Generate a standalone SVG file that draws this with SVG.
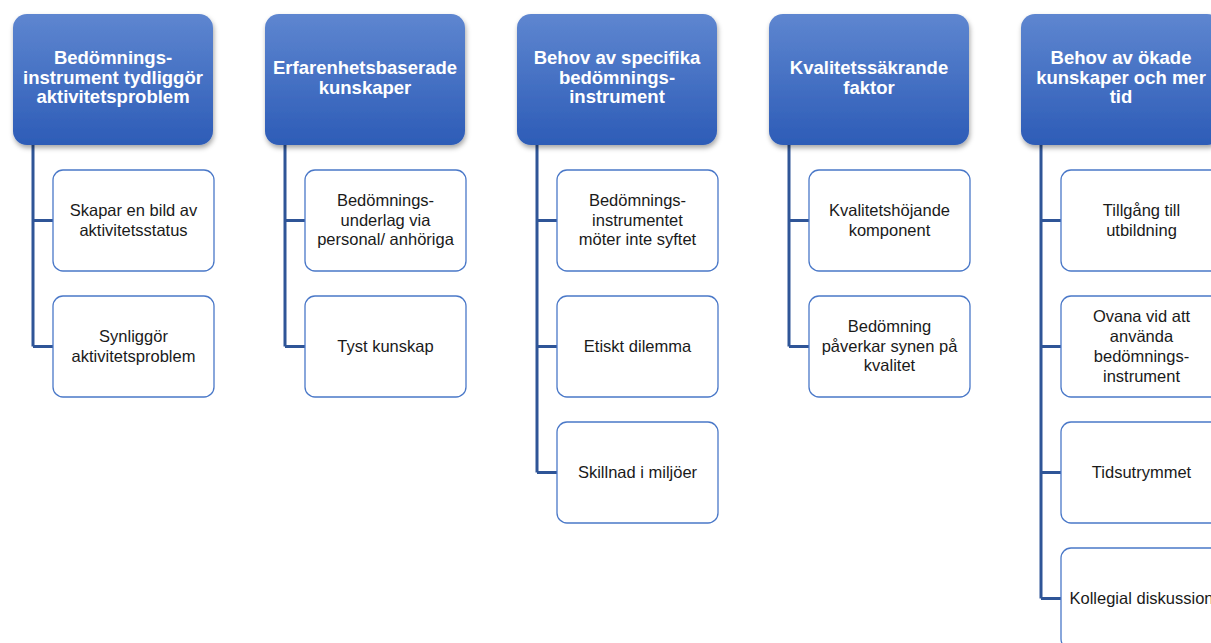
<svg xmlns="http://www.w3.org/2000/svg" width="1211" height="643" viewBox="0 0 1211 643">
<defs>
<linearGradient id="hg" x1="0" y1="0" x2="0" y2="1">
<stop offset="0" stop-color="#5E86D0"/>
<stop offset="1" stop-color="#2D5CB7"/>
</linearGradient>
<filter id="sh" x="-10%" y="-10%" width="125%" height="130%">
<feDropShadow dx="1" dy="3" stdDeviation="2.5" flood-color="#000" flood-opacity="0.35"/>
</filter>
</defs>
<style>
.h{fill:url(#hg);filter:url(#sh)}
.ht{font-family:"Liberation Sans",Arial,sans-serif;font-weight:bold;font-size:18.5px;fill:#fff;text-anchor:middle}
.c{fill:#fff;stroke:#4A78C8;stroke-width:1.3}
.ct{font-family:"Liberation Sans",Arial,sans-serif;font-size:16.5px;fill:#1a1a1a;text-anchor:middle}
.ln{fill:none;stroke:#2F5597;stroke-width:3}
</style>
<g id="connectors">
<path class="ln" d="M33,145 V346.5 M33,220.5 H53 M33,346.5 H53"/>
<path class="ln" d="M285,145 V346.5 M285,220.5 H305 M285,346.5 H305"/>
<path class="ln" d="M537,145 V472.5 M537,220.5 H557 M537,346.5 H557 M537,472.5 H557"/>
<path class="ln" d="M789,145 V346.5 M789,220.5 H809 M789,346.5 H809"/>
<path class="ln" d="M1041,145 V598.5 M1041,220.5 H1061 M1041,346.5 H1061 M1041,472.5 H1061 M1041,598.5 H1061"/>
</g>
<g id="h1"><rect class="h" x="13" y="14" width="200" height="131" rx="14"/>
<text class="ht" x="113" y="64">Bedömnings-</text><text class="ht" x="113" y="83.5">instrument tydliggör</text><text class="ht" x="113" y="103">aktivitetsproblem</text></g>
<g id="h2"><rect class="h" x="265" y="14" width="200" height="131" rx="14"/>
<text class="ht" x="365" y="74">Erfarenhetsbaserade</text><text class="ht" x="365" y="93.5">kunskaper</text></g>
<g id="h3"><rect class="h" x="517" y="14" width="200" height="131" rx="14"/>
<text class="ht" x="617" y="64">Behov av specifika</text><text class="ht" x="617" y="83.5">bedömnings-</text><text class="ht" x="617" y="103">instrument</text></g>
<g id="h4"><rect class="h" x="769" y="14" width="200" height="131" rx="14"/>
<text class="ht" x="869" y="74">Kvalitetssäkrande</text><text class="ht" x="869" y="93.5">faktor</text></g>
<g id="h5"><rect class="h" x="1021" y="14" width="200" height="131" rx="14"/>
<text class="ht" x="1121" y="64">Behov av ökade</text><text class="ht" x="1121" y="83.5">kunskaper och mer</text><text class="ht" x="1121" y="103">tid</text></g>

<g id="c1a"><rect class="c" x="53" y="170" width="161" height="101" rx="10"/>
<text class="ct" x="133.5" y="216">Skapar en bild av</text><text class="ct" x="133.5" y="235.5">aktivitetsstatus</text></g>
<g id="c1b"><rect class="c" x="53" y="296" width="161" height="101" rx="10"/>
<text class="ct" x="133.5" y="342">Synliggör</text><text class="ct" x="133.5" y="361.5">aktivitetsproblem</text></g>

<g id="c2a"><rect class="c" x="305" y="170" width="161" height="101" rx="10"/>
<text class="ct" x="385.5" y="206">Bedömnings-</text><text class="ct" x="385.5" y="225.5">underlag via</text><text class="ct" x="385.5" y="245">personal/ anhöriga</text></g>
<g id="c2b"><rect class="c" x="305" y="296" width="161" height="101" rx="10"/>
<text class="ct" x="385.5" y="352">Tyst kunskap</text></g>

<g id="c3a"><rect class="c" x="557" y="170" width="161" height="101" rx="10"/>
<text class="ct" x="637.5" y="206">Bedömnings-</text><text class="ct" x="637.5" y="225.5">instrumentet</text><text class="ct" x="637.5" y="245">möter inte syftet</text></g>
<g id="c3b"><rect class="c" x="557" y="296" width="161" height="101" rx="10"/>
<text class="ct" x="637.5" y="352">Etiskt dilemma</text></g>
<g id="c3c"><rect class="c" x="557" y="422" width="161" height="101" rx="10"/>
<text class="ct" x="637.5" y="478">Skillnad i miljöer</text></g>

<g id="c4a"><rect class="c" x="809" y="170" width="161" height="101" rx="10"/>
<text class="ct" x="889.5" y="216">Kvalitetshöjande</text><text class="ct" x="889.5" y="235.5">komponent</text></g>
<g id="c4b"><rect class="c" x="809" y="296" width="161" height="101" rx="10"/>
<text class="ct" x="889.5" y="332">Bedömning</text><text class="ct" x="889.5" y="351.5">påverkar synen på</text><text class="ct" x="889.5" y="371">kvalitet</text></g>

<g id="c5a"><rect class="c" x="1061" y="170" width="161" height="101" rx="10"/>
<text class="ct" x="1141.5" y="216">Tillgång till</text><text class="ct" x="1141.5" y="235.5">utbildning</text></g>
<g id="c5b"><rect class="c" x="1061" y="296" width="161" height="101" rx="10"/>
<text class="ct" x="1141.5" y="322">Ovana vid att</text><text class="ct" x="1141.5" y="342">använda</text><text class="ct" x="1141.5" y="362">bedömnings-</text><text class="ct" x="1141.5" y="382">instrument</text></g>
<g id="c5c"><rect class="c" x="1061" y="422" width="161" height="101" rx="10"/>
<text class="ct" x="1141.5" y="478">Tidsutrymmet</text></g>
<g id="c5d"><rect class="c" x="1061" y="548" width="161" height="101" rx="10"/>
<text class="ct" x="1141.5" y="604">Kollegial diskussion</text></g>
</svg>
